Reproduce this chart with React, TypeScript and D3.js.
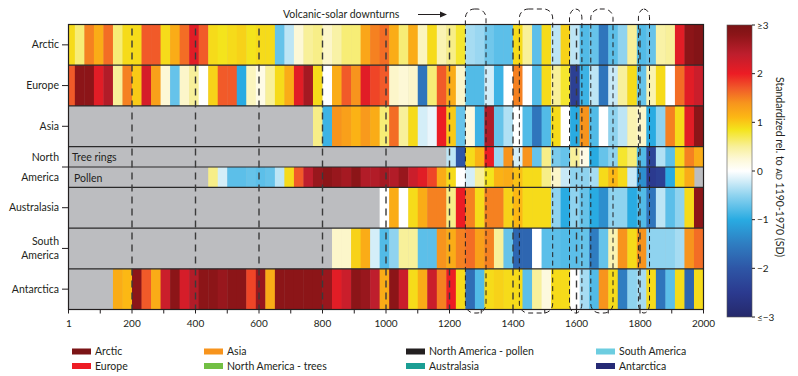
import React from 'react';
import * as d3 from 'd3';

// ---------- data ----------
const regionNames = ['Arctic', 'Europe', 'Asia', 'North America', 'Australasia', 'South America', 'Antarctica'];
const regionLabelLines = [['Arctic'], ['Europe'], ['Asia'], ['North', 'America'], ['Australasia'], ['South', 'America'], ['Antarctica']];

// 30-year bins ending in AD 2000 (first bin AD 1-20). Each series: first year + values (SD units)
const arcticStart = 0;
const arctic = [0.9, 0.6, 1.5, 1.2, 1.6, 0.6, 0.9, 0.9, 1.7, 1.7, 0.9, 1.2, 1.6, 2.1, 1.7, 0.9, 0.85, 0.9, 0.95, 0.85, 0.9, 0.9, -0.7, -0.3, 0.25, 0.5, 0.55, 0.3, 0.45, 0.6, 0.6, 1.25, 1.5, 1.6, 1.2, 0.6, 1.2, 0.35, 0.9, 0.4, 0.55, 0.8, -0.4, -0.45, -0.65, -0.75, -0.75, 0.9, 0.5, -0.75, 0.9, -0.3, 0.95, -0.3, -0.8, -0.7, -1.6, -0.75, -0.5, 0.5, -0.8, -0.7, 0.45, 0.5, 2.1, 2.8, 2.9];
const europeStart = 0;
const europe = [1.7, 2.8, 2.8, 2.1, 2.5, 0.5, 1.5, 1.0, 2.2, 1.3, 0.25, -0.7, 0.3, 0.5, 0.0, 0.95, 1.7, 1.7, -1.0, 0.35, 0.15, 0.5, 0.9, 1.2, 2.1, 2.6, 0.9, 0.0, 1.2, 1.7, 1.4, 2.1, 1.8, 1.7, 0.3, 0.25, 0.3, -1.6, 0.6, 1.7, 1.2, 0.3, -0.8, -0.8, -0.2, -0.9, 0.0, 1.5, 0.0, -0.8, 0.9, 0.5, 0.8, -2.4, -0.9, -0.3, -1.6, -0.25, 0.5, 0.9, -0.7, 0.4, 0.9, 0.0, 1.6, 2.1, 2.3];
const asiaStart = 770;
const asia = [0.55, -0.9, 1.4, 1.3, 1.15, 1.35, 1.2, 0.6, 1.6, 0.5, 0.9, -0.2, -0.1, 2.0, 1.0, -0.7, 0.2, -0.9, 2.5, -0.7, -0.35, 0.0, -0.8, -1.6, -0.8, 0.9, 0.0, -1.0, 1.4, -0.8, 0.0, -0.5, -0.3, 0.4, 0.3, -1.0, -0.5, 1.5, 0.9, 2.1, 2.8];
const naTreesStart = 1190;
const naTrees = [-0.3, -2.0, 0.9, 1.15, 2.0, -0.45, 1.4, -0.2, 1.4, -0.7, 0.55, -0.6, -0.7, 0.5, 0.15, -1.0, -0.7, -0.5, 0.8, 0.6, -0.8, -2.3, -0.35, -0.75, 0.9, 1.5, 1.2];
const naPollenStart = 440;
const naPollen = [0.55, -0.2, -0.75, -0.75, -0.7, -0.75, -0.7, -0.3, 0.9, 1.7, 2.4, 2.7, 2.8, 2.7, 2.6, 2.8, 2.5, 2.5, 2.6, 2.5, 2.7, 2.3, 2.1, 1.8, 1.2, 0.9, 0.0, -0.2, 0.5, 0.85, 1.15, 1.2, 1.05, 0.9, 0.9, 0.55, 0.3, -0.25, -0.5, -0.5, -0.4, 0.9, 1.1, 0.9, -0.25, -1.3, -2.5, -2.4, -1.0, 0.9, 1.2];
const australasiaStart = 980;
const australasia = [0.0, 1.2, 0.0, 0.9, 1.2, 1.5, 1.5, 0.55, 2.0, 1.5, 0.9, 1.5, 1.5, 0.95, 1.1, 0.9, 0.9, 0.9, -0.5, -1.0, -0.5, -0.7, -1.0, -1.3, -0.5, -0.5, -1.0, -0.8, -1.6, -0.3, -0.75, -0.5, 0.9, 2.8];
const southAmericaStart = 830;
const southAmerica = [0.3, 0.3, 0.95, 1.2, -0.2, -0.8, -0.5, 0.5, 0.5, -0.75, -0.75, 1.4, 1.2, 1.5, 1.6, 1.3, 1.5, 0.5, -0.7, -1.8, -1.8, 0.0, -0.75, -0.75, -0.8, -0.75, -0.7, -1.5, -0.7, 0.4, 1.4, 0.9, 1.4, -0.5, -0.5, -0.5, -0.4, 1.4, 1.6];
const antarcticaStart = 140;
const antarctica = [1.2, 1.1, 2.8, 1.7, 1.2, 2.3, 2.8, 2.2, 2.5, 2.8, 2.8, 2.7, 2.8, 2.8, 1.8, 2.7, 1.2, 2.8, 2.8, 2.8, 2.8, 2.8, 2.7, 2.1, 2.3, 2.8, 2.7, 2.4, 1.2, 2.8, 2.3, 0.9, 1.2, 2.3, 1.5, 2.0, 0.9, -1.7, -0.8, 0.9, 0.95, 0.9, 0.9, -0.75, 0.5, 0.2, 0.9, 0.9, 0.0, -0.4, -0.8, 1.4, 0.9, -1.5, -0.5, -0.4, 0.9, -1.6, -0.75, 0.9, -1.8, 0.9];

const xTickValues = [1, 200, 400, 600, 800, 1000, 1200, 1400, 1600, 1800, 2000];
const xTickLabels = ['1', '200', '400', '600', '800', '1000', '1200', '1400', '1600', '1800', '2000'];
const gridYears = [200, 400, 600, 800, 1000, 1200, 1400, 1600, 1800];
const downturnStart = [1250, 1420, 1578, 1645, 1795];
const downturnEnd = [1315, 1525, 1617, 1715, 1830];

const cbValues = [3, 2, 1, 0, -1, -2, -3];
const cbLabels = ['≥3', '2', '1', '0', '−1', '−2', '≤−3'];

const legendNames = ['Arctic', 'Europe', 'Asia', 'North America - trees', 'North America - pollen', 'Australasia', 'South America', 'Antarctica'];
const legendColors = ['#7b1416', '#ed1c24', '#f7941d', '#72bf44', '#231f20', '#1b9e94', '#6dcde0', '#262a75'];

// ---------- styles ----------
const FONT = 'Lato, "Open Sans", sans-serif';
const INK = '#231f20';
const GRAY = '#bcbdc0';
const colorDomain = [-3, -2.5, -2, -1.5, -1, -0.5, -0.15, 0, 0.25, 0.5, 0.85, 1.1, 1.4, 1.7, 2, 2.4, 2.8, 3];
const colorRange = ['#25296b', '#2b3a8f', '#2e56a6', '#2f7dc1', '#29abe2', '#8fd3ef', '#dff2fa', '#ffffff', '#fdf8d6', '#f8f09a', '#f4e41c', '#fcb814', '#f7941d', '#f15a29', '#ec1c24', '#be1e2d', '#8c1518', '#7a1315'];

export default function App() {
  const left = 68.5, right = 703.5, top = 24.5, bottom = 309.5;
  const x = d3.scaleLinear().domain([0, 2000]).range([left, right]);
  const y = d3.scaleBand<string>().domain(regionNames).range([top, bottom]);
  const color = d3.scaleLinear<string>().domain(colorDomain).range(colorRange).clamp(true);
  const edges = [0].concat(d3.range(20, 2001, 30));
  const bw = y.bandwidth();

  const series = [
    { band: 'Arctic', part: 0, start: arcticStart, values: arctic },
    { band: 'Europe', part: 0, start: europeStart, values: europe },
    { band: 'Asia', part: 0, start: asiaStart, values: asia },
    { band: 'North America', part: 1, start: naTreesStart, values: naTrees },
    { band: 'North America', part: 2, start: naPollenStart, values: naPollen },
    { band: 'Australasia', part: 0, start: australasiaStart, values: australasia },
    { band: 'South America', part: 0, start: southAmericaStart, values: southAmerica },
    { band: 'Antarctica', part: 0, start: antarcticaStart, values: antarctica },
  ];

  const cells: any[] = [];
  series.forEach((s, si) => {
    const b0 = edges.indexOf(s.start);
    const y0 = (y(s.band) as number) + (s.part === 2 ? bw / 2 : 0);
    const h = s.part === 0 ? bw : bw / 2;
    s.values.forEach((v, k) => {
      const e0 = edges[b0 + k], e1 = edges[b0 + k + 1];
      cells.push(
        <rect key={`c${si}-${k}`} x={x(e0)} y={y0} width={x(e1) - x(e0) + 0.4} height={h} fill={color(v)} />
      );
    });
  });

  const cb = d3.scaleLinear().domain([-3, 3]).range([317, 25]);
  const cbX = 727, cbW = 25;
  const legendColX = [72, 204, 406, 596];
  const legendRowY = [351.5, 366];
  const gradStops = colorDomain.map((d, i) => ({ off: (3 - d) / 6, c: colorRange[i] })).sort((a, b) => a.off - b.off);

  return (
    <svg width={798} height={376} style={{ display: 'block', position: 'absolute', left: 0, top: 0 }} fontFamily={FONT}>
      <defs>
        <linearGradient id="cbgrad" x1="0" y1="0" x2="0" y2="1">
          {gradStops.map((s, i) => (
            <stop key={i} offset={s.off} stopColor={s.c} />
          ))}
        </linearGradient>
      </defs>
      <rect x={0} y={0} width={798} height={376} fill="#fff" />
      {/* plot background */}
      <rect x={left} y={top} width={right - left} height={bottom - top} fill={GRAY} />
      {cells}
      {/* row separators */}
      {regionNames.slice(1).map((r) => (
        <line key={r} x1={left} x2={right} y1={y(r)} y2={y(r)} stroke="#2a2a2a" strokeWidth={1.2} />
      ))}
      <line x1={left} x2={right} y1={(y('North America') as number) + bw / 2} y2={(y('North America') as number) + bw / 2} stroke="#2a2a2a" strokeWidth={1.2} />
      {/* dashed grid */}
      {gridYears.map((g) => (
        <line key={g} x1={x(g)} x2={x(g)} y1={top + 4} y2={bottom} stroke="#3a3a3a" strokeWidth={1.4} strokeDasharray="7 5" />
      ))}
      <rect x={left} y={top} width={right - left} height={bottom - top} fill="none" stroke={INK} strokeWidth={1.2} />
      {/* inner labels */}
      <text x={72} y={161} fontSize={10.5} fill={INK}>Tree rings</text>
      <text x={74} y={182} fontSize={10.5} fill={INK}>Pollen</text>
      {/* volcanic-solar boxes */}
      {downturnStart.map((s, i) => {
        const x0 = x(s), x1 = x(downturnEnd[i]);
        const w = x1 - x0;
        return (
          <rect key={i} x={x0} y={9} width={w} height={304} rx={Math.min(9, w / 2)} ry={9} fill="none" stroke={INK} strokeWidth={1} strokeDasharray="5 3.5" />
        );
      })}
      <text x={283} y={18} fontSize={10.5} fill={INK}>Volcanic-solar downturns</text>
      <line x1={418} x2={443} y1={14.5} y2={14.5} stroke={INK} strokeWidth={1} />
      <path d="M447,14.5 L440,11.5 L440,17.5 Z" fill={INK} />
      {/* x axis */}
      {d3.range(0, 2001, 100).map((t) => (
        <line key={t} x1={x(t)} x2={x(t)} y1={bottom} y2={bottom + 4} stroke={INK} strokeWidth={1} />
      ))}
      {xTickValues.map((t, i) => (
        <text key={t} x={x(t)} y={327} fontSize={10} textAnchor="middle" fill={INK}>{xTickLabels[i]}</text>
      ))}
      {/* y axis */}
      {regionNames.map((r, i) => {
        const cy = (y(r) as number) + bw / 2;
        const lines = regionLabelLines[i];
        const gap = r === 'North America' ? 20 : 14;
        return (
          <g key={r}>
            <line x1={62} x2={left} y1={cy} y2={cy} stroke={INK} strokeWidth={1} />
            {lines.map((ln, j) => (
              <text key={j} x={59} y={cy + 3.5 + (j - (lines.length - 1) / 2) * gap} fontSize={10.5} textAnchor="end" fill={INK}>{ln}</text>
            ))}
          </g>
        );
      })}
      {/* colour bar */}
      <rect x={cbX} y={cb(3)} width={cbW} height={cb(-3) - cb(3)} fill="url(#cbgrad)" stroke="#555" strokeWidth={0.6} />
      {cbValues.map((v, i) => (
        <g key={v}>
          <line x1={cbX + cbW} x2={cbX + cbW + 3} y1={cb(v)} y2={cb(v)} stroke={INK} strokeWidth={1} />
          <text x={cbX + cbW + 5} y={cb(v) + 3.5} fontSize={10} fill={INK}>{cbLabels[i]}</text>
        </g>
      ))}
      <text transform="translate(776,167) rotate(90)" fontSize={10.5} textAnchor="middle" fill={INK}>
        Standardized rel. to <tspan fontSize={8}>AD</tspan> 1190-1970 (SD)
      </text>
      {/* legend */}
      {legendNames.map((n, i) => {
        const lx = legendColX[Math.floor(i / 2)];
        const ly = legendRowY[i % 2];
        return (
          <g key={n}>
            <rect x={lx} y={ly - 3} width={19} height={6} fill={legendColors[i]} />
            <text x={lx + 23} y={ly + 3.5} fontSize={10.5} fill={INK}>{n}</text>
          </g>
        );
      })}
    </svg>
  );
}
